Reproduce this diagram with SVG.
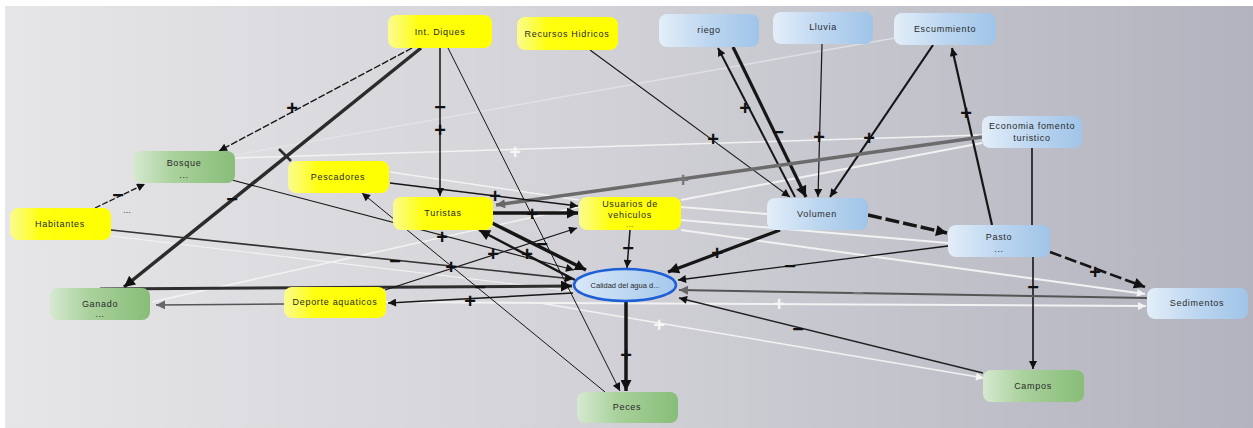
<svg xmlns="http://www.w3.org/2000/svg" width="1253" height="428" viewBox="0 0 1253 428">
<defs>
<linearGradient id="bg" x1="0" y1="0" x2="1" y2="0">
<stop offset="0" stop-color="#e6e6e8"/><stop offset="0.5" stop-color="#d0d0d6"/><stop offset="1" stop-color="#b3b3bf"/>
</linearGradient>
<linearGradient id="gy" x1="0" y1="0" x2="1" y2="0">
<stop offset="0" stop-color="#fbfb90"/><stop offset="0.3" stop-color="#ffff10"/><stop offset="1" stop-color="#ffff00"/>
</linearGradient>
<linearGradient id="gg" x1="0" y1="0" x2="1" y2="0">
<stop offset="0" stop-color="#d6e9d0"/><stop offset="0.4" stop-color="#a9d19c"/><stop offset="1" stop-color="#88bd78"/>
</linearGradient>
<linearGradient id="gb" x1="0" y1="0" x2="1" y2="0">
<stop offset="0" stop-color="#e3eef9"/><stop offset="0.5" stop-color="#bcd6f0"/><stop offset="1" stop-color="#a0c4e8"/>
</linearGradient>
<linearGradient id="ge" x1="0" y1="0" x2="1" y2="0">
<stop offset="0" stop-color="#d8e8f8"/><stop offset="1" stop-color="#a6c8ec"/>
</linearGradient>
<marker id="ak" viewBox="0 0 10 10" refX="10" refY="5" markerWidth="11" markerHeight="8" markerUnits="userSpaceOnUse" orient="auto"><path d="M0,0 L10,5 L0,10 z" fill="#111"/></marker>
<marker id="akb" viewBox="0 0 10 10" refX="10" refY="5" markerWidth="14" markerHeight="11" markerUnits="userSpaceOnUse" orient="auto"><path d="M0,0 L10,5 L0,10 z" fill="#111"/></marker>
<marker id="ag" viewBox="0 0 10 10" refX="10" refY="5" markerWidth="12" markerHeight="9" markerUnits="userSpaceOnUse" orient="auto"><path d="M0,0 L10,5 L0,10 z" fill="#666"/></marker>
<marker id="aw" viewBox="0 0 10 10" refX="10" refY="5" markerWidth="11" markerHeight="8" markerUnits="userSpaceOnUse" orient="auto"><path d="M0,0 L10,5 L0,10 z" fill="#f4f4f4"/></marker>
</defs>
<style>
.n text{font-family:"Liberation Sans",Arial,sans-serif;font-size:9px;fill:#2a2a2a;letter-spacing:0.7px;text-anchor:middle}
.ly{fill:url(#gy)}.lg{fill:url(#gg)}.lb{fill:url(#gb)}
.e line,.e path{fill:none}
.k{stroke:#161616}
.g{stroke:#666}
.w{stroke:#f2f2f2}
.wf{stroke:#e4e4e8}
.lab{font-family:"Liberation Sans",Arial,sans-serif;font-size:20px;font-weight:bold;text-anchor:middle;fill:#111}
.labw{fill:#f6f6f6}
.labg{fill:#777}
</style>
<rect width="1253" height="428" fill="#ffffff"/>
<rect x="5" y="6" width="1248" height="422" fill="url(#bg)"/>

<g id="connectors" class="e">
<!-- light links -->
<line class="wf" x1="895" y1="38" x2="235" y2="155" stroke-width="1.5" opacity="0.8"/>
<line class="w" x1="235" y1="158" x2="982" y2="135" stroke-width="1.5"/>
<line class="w" x1="982" y1="143" x2="681" y2="200" stroke-width="2"/>
<line class="w" x1="681" y1="207" x2="767" y2="214" stroke-width="2"/>
<line class="w" x1="681" y1="220" x2="948" y2="243" stroke-width="2"/>
<line class="w" x1="681" y1="230" x2="1145" y2="294" stroke-width="2" marker-end="url(#aw)"/>
<line class="w" x1="386" y1="302" x2="1146" y2="306" stroke-width="2" marker-end="url(#aw)"/>
<line class="w" x1="540" y1="303" x2="984" y2="378" stroke-width="1.5" marker-end="url(#aw)"/>
<line class="w" x1="152" y1="302" x2="579" y2="207" stroke-width="1.5"/>
<line class="w" x1="111" y1="236" x2="573" y2="291" stroke-width="1.2"/>
<line class="w" x1="390" y1="172" x2="579" y2="200" stroke-width="1.5"/>
<!-- dark links -->
<line class="k" x1="412" y1="48" x2="219" y2="151" stroke-width="1.4" stroke-dasharray="7 2" marker-end="url(#ak)"/>
<line stroke="#2b2b2b" x1="421" y1="48" x2="124" y2="287" stroke-width="3.5" marker-end="url(#akb)"/>
<line stroke="#2b2b2b" x1="279" y1="149" x2="291" y2="161" stroke-width="2.5"/>
<line class="k" x1="440" y1="48" x2="440" y2="196" stroke-width="1.5" marker-end="url(#ak)"/>
<line class="k" x1="448" y1="48" x2="620" y2="391" stroke-width="1" marker-end="url(#ak)"/>
<line class="k" x1="590" y1="50" x2="790" y2="197" stroke-width="1.1" marker-end="url(#ak)"/>
<line class="k" x1="795" y1="197" x2="718" y2="48" stroke-width="2" marker-end="url(#ak)"/>
<line class="k" x1="733" y1="47" x2="806" y2="197" stroke-width="3.2" marker-end="url(#akb)"/>
<line class="k" x1="822" y1="44" x2="818" y2="197" stroke-width="1.2" marker-end="url(#ak)"/>
<line class="k" x1="933" y1="45" x2="830" y2="197" stroke-width="2.2" marker-end="url(#ak)"/>
<line class="k" x1="992" y1="225" x2="952" y2="48" stroke-width="2.2" marker-end="url(#ak)"/>
<line class="k" x1="1032" y1="148" x2="1032" y2="225" stroke-width="1.6"/>
<line class="k" x1="1033" y1="257" x2="1033" y2="369" stroke-width="1.6" marker-end="url(#ak)"/>
<line stroke="#6b6b6b" x1="982" y1="137" x2="496" y2="205" stroke-width="3.5" marker-end="url(#ag)"/>
<line class="k" x1="868" y1="215" x2="947" y2="233" stroke-width="3.5" stroke-dasharray="14 4" marker-end="url(#akb)"/>
<line class="k" x1="1050" y1="252" x2="1145" y2="287" stroke-width="2.6" stroke-dasharray="12 4" marker-end="url(#akb)"/>
<line class="k" x1="780" y1="230" x2="668" y2="272" stroke-width="3.2" marker-end="url(#akb)"/>
<line class="k" x1="948" y1="246" x2="678" y2="280" stroke-width="1.3" marker-end="url(#ak)"/>
<line stroke="#555" x1="1147" y1="298" x2="679" y2="290" stroke-width="2" marker-end="url(#ag)"/>
<line stroke="#222" x1="983" y1="373" x2="679" y2="298" stroke-width="1.4" marker-end="url(#ak)"/>
<line class="k" x1="626" y1="302" x2="626" y2="391" stroke-width="3.5" marker-end="url(#akb)"/>
<line class="k" x1="630" y1="230" x2="627" y2="268" stroke-width="1.5" marker-end="url(#ak)"/>
<line class="k" x1="493" y1="213" x2="578" y2="213" stroke-width="3.5" marker-end="url(#akb)"/>
<line class="k" x1="390" y1="183" x2="578" y2="206" stroke-width="1.5" marker-end="url(#ak)"/>
<line class="k" x1="490" y1="222" x2="586" y2="270" stroke-width="3.5" marker-end="url(#akb)"/>
<line class="k" x1="575" y1="280" x2="479" y2="230" stroke-width="2.5" marker-end="url(#akb)"/>
<line class="k" x1="605" y1="392" x2="362" y2="193" stroke-width="1" marker-end="url(#ak)"/>
<line class="k" x1="232" y1="180" x2="574" y2="270" stroke-width="1.1" marker-end="url(#ak)"/>
<line stroke="#333" x1="111" y1="230" x2="573" y2="279" stroke-width="1.6" marker-end="url(#ak)"/>
<line class="k" x1="95" y1="208" x2="145" y2="184" stroke-width="1.3" stroke-dasharray="6 2" marker-end="url(#ak)"/>
<line stroke="#555" x1="284" y1="304" x2="156" y2="305" stroke-width="1.6" marker-end="url(#ag)"/>
<line class="k" x1="573" y1="293" x2="388" y2="303" stroke-width="1.5" marker-end="url(#ak)"/>
<line stroke="#2e2e2e" x1="100" y1="289" x2="572" y2="286" stroke-width="3" marker-end="url(#akb)"/>
<line class="k" x1="385" y1="290" x2="577" y2="228" stroke-width="1.2" marker-end="url(#ak)"/>
<!-- labels -->
<text class="lab" x="292" y="115">+</text>
<text class="lab" x="232" y="206">−</text>
<text class="lab" x="440" y="114">−</text>
<text class="lab" x="440" y="137">+</text>
<text class="lab" x="713" y="146">+</text>
<text class="lab" x="745" y="115">+</text>
<text class="lab" x="778" y="139">−</text>
<text class="lab" x="819" y="144">+</text>
<text class="lab" x="869" y="145">+</text>
<text class="lab" x="966" y="120">+</text>
<text class="lab" x="1033" y="294">−</text>
<text class="lab labg" x="683" y="187">+</text>
<text class="lab" x="1095" y="279">+</text>
<text class="lab" x="717" y="260">+</text>
<text class="lab" x="790" y="273">−</text>
<text class="lab labg" x="858" y="300">−</text>
<text class="lab" x="798" y="336">−</text>
<text class="lab" x="626" y="362">+</text>
<text class="lab" x="628" y="255">−</text>
<text class="lab" x="532" y="221">+</text>
<text class="lab" x="495" y="203">+</text>
<text class="lab" x="542" y="251">−</text>
<text class="lab" x="527" y="261">+</text>
<text class="lab" x="451" y="274">+</text>
<text class="lab" x="442" y="244">+</text>
<text class="lab" x="395" y="268">−</text>
<text class="lab" x="118" y="202">−</text>
<text class="lab" x="470" y="308">+</text>
<text class="lab" x="480" y="294">−</text>
<text class="lab" x="493" y="261">+</text>
<text class="lab labw" x="515" y="159">+</text>
<text class="lab labw" x="779" y="311">+</text>
<text class="lab labw" x="659" y="332">+</text>
<text x="127" y="213" font-family="Liberation Sans,Arial,sans-serif" font-size="9" fill="#333" text-anchor="middle">...</text>
</g>

<g id="n-diques" class="n"><rect class="ly" x="388" y="15" width="104" height="33" rx="8"/><text x="440" y="35">Int. Diques</text></g>
<g id="n-recursos" class="n"><rect class="ly" x="517" y="17" width="101" height="33" rx="8"/><text x="567" y="37">Recursos Hidricos</text></g>
<g id="n-riego" class="n"><rect class="lb" x="659" y="14" width="100" height="33" rx="8"/><text x="709" y="33">riego</text></g>
<g id="n-lluvia" class="n"><rect class="lb" x="773" y="12" width="100" height="32" rx="8"/><text x="823" y="30">Lluvia</text></g>
<g id="n-escummiento" class="n"><rect class="lb" x="894" y="13" width="102" height="32" rx="8"/><text x="945" y="32">Escummiento</text></g>
<g id="n-economia" class="n"><rect class="lb" x="982" y="116" width="100" height="32" rx="8"/><text x="1032" y="129">Economia fomento</text><text x="1032" y="141">turistico</text></g>
<g id="n-bosque" class="n"><rect class="lg" x="133" y="151" width="102" height="32" rx="8"/><text x="184" y="166">Bosque</text><text x="184" y="178">...</text></g>
<g id="n-pescadores" class="n"><rect class="ly" x="288" y="161" width="101" height="32" rx="8"/><text x="338" y="180">Pescadores</text></g>
<g id="n-habitantes" class="n"><rect class="ly" x="10" y="208" width="101" height="32" rx="8"/><text x="60" y="227">Habitantes</text></g>
<g id="n-turistas" class="n"><rect class="ly" x="393" y="197" width="100" height="33" rx="8"/><text x="443" y="216">Turistas</text></g>
<g id="n-usuarios" class="n"><rect class="ly" x="579" y="197" width="102" height="33" rx="8"/><text x="630" y="207">Usuarios de</text><text x="630" y="218">vehiculos</text><text x="630" y="227" style="font-size:7px">...</text></g>
<g id="n-volumen" class="n"><rect class="lb" x="767" y="198" width="101" height="32" rx="8"/><text x="817" y="217">Volumen</text></g>
<g id="n-pasto" class="n"><rect class="lb" x="948" y="225" width="102" height="32" rx="8"/><text x="999" y="240">Pasto</text><text x="999" y="252">...</text></g>
<g id="n-calidad" class="n"><ellipse cx="625" cy="285" rx="51" ry="16" fill="url(#ge)" stroke="#1d5fd6" stroke-width="2.5"/><text x="625" y="288" style="font-size:7.5px;letter-spacing:0">Calidad del agua d...</text></g>
<g id="n-ganado" class="n"><rect class="lg" x="50" y="288" width="100" height="32" rx="8"/><text x="100" y="307">Ganado</text><text x="100" y="317">...</text></g>
<g id="n-deporte" class="n"><rect class="ly" x="284" y="287" width="102" height="31" rx="8"/><text x="335" y="305">Deporte aquaticos</text></g>
<g id="n-sedimentos" class="n"><rect class="lb" x="1147" y="288" width="101" height="31" rx="8"/><text x="1197" y="306">Sedimentos</text></g>
<g id="n-peces" class="n"><rect class="lg" x="577" y="392" width="101" height="31" rx="8"/><text x="627" y="410">Peces</text></g>
<g id="n-campos" class="n"><rect class="lg" x="983" y="370" width="101" height="32" rx="8"/><text x="1033" y="389">Campos</text></g>
</svg>
